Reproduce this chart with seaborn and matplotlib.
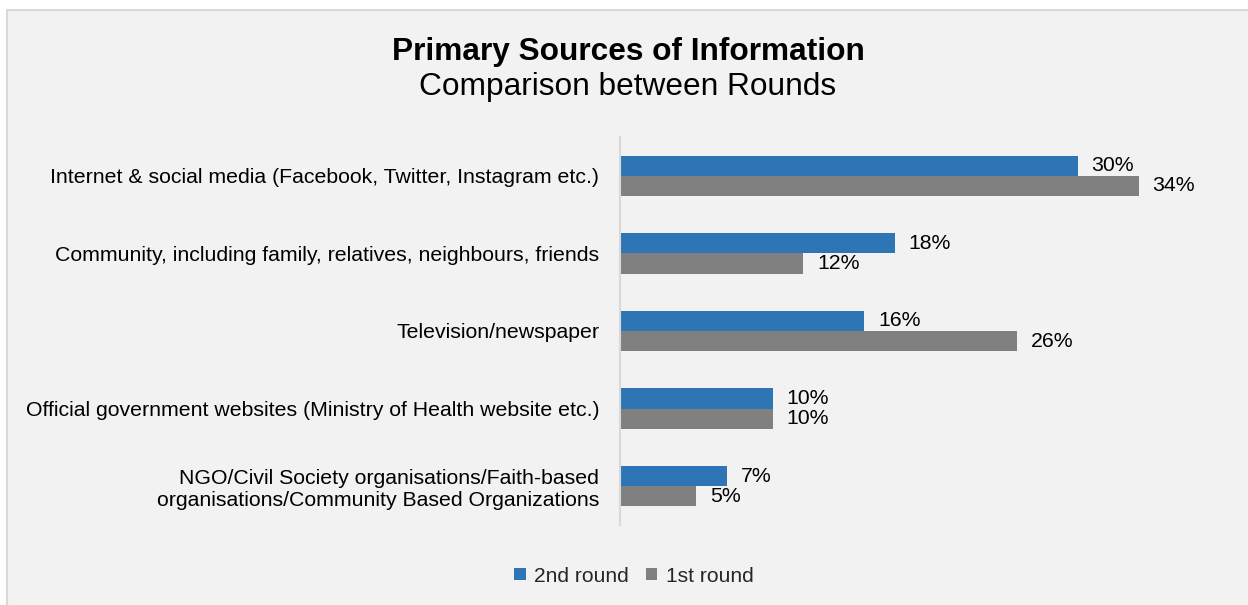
import matplotlib
matplotlib.use("Agg")
import matplotlib.pyplot as plt
import seaborn as sns
import pandas as pd
from matplotlib.patches import Rectangle, Patch

categories = [
    "Internet & social media (Facebook, Twitter, Instagram etc.)",
    "Community, including family, relatives, neighbours, friends",
    "Television/newspaper",
    "Official government websites (Ministry of Health website etc.)",
    "NGO/Civil Society organisations/Faith-based\norganisations/Community Based Organizations",
]
round2 = [30, 18, 16, 10, 7]
round1 = [34, 12, 26, 10, 5]
series_names = ["2nd round", "1st round"]
colors = ["#2E75B6", "#808080"]

df = pd.DataFrame({
    "category": categories * 2,
    "value": round2 + round1,
    "series": [series_names[0]] * len(categories) + [series_names[1]] * len(categories),
})

sns.set_theme(style="white")
plt.rcParams["font.family"] = ["Liberation Sans", "DejaVu Sans"]

W, H = 1248, 605
fig = plt.figure(figsize=(W / 100, H / 100), dpi=100)
fig.patch.set_facecolor("#FFFFFF")
fig.add_artist(Rectangle((7 / W, -0.01), (W - 7) / W + 0.02, (H - 10) / H + 0.01, transform=fig.transFigure,
                         facecolor="#F2F2F2", edgecolor="#D9D9D9", linewidth=1.5, zorder=-10))

left, right, top, bottom = 620, 1230, 137, 525
ax = fig.add_axes([left / W, 1 - bottom / H, (right - left) / W, (bottom - top) / H])
ax.set_facecolor("#F2F2F2")
ax.patch.set_alpha(0)

sns.barplot(data=df, y="category", x="value", hue="series", hue_order=series_names,
            palette=colors, orient="h", width=0.52, gap=0, dodge=True, ax=ax,
            legend=False, saturation=1, edgecolor="none")

ax.set_xlim(0, 40)
ax.set_xlabel("")
ax.set_ylabel("")
ax.set_xticks([])
for s in ["top", "right", "bottom"]:
    ax.spines[s].set_visible(False)
ax.spines["left"].set_color("#D9D9D9")
ax.spines["left"].set_linewidth(1.5)
ax.tick_params(axis="y", length=0, pad=15, labelsize=15.3, colors="#000000")
for lbl in ax.get_yticklabels():
    lbl.set_horizontalalignment("right")
    lbl.set_multialignment("right")

for cont in ax.containers:
    ax.bar_label(cont, fmt="%d%%", padding=10, fontsize=15.3, color="#000000")

fig.text(628 / W, 1 - 52 / H, "Primary Sources of Information", ha="center", va="center",
         fontsize=22.8, fontweight="bold", color="#000000")
fig.text(628 / W, 1 - 87 / H, "Comparison between Rounds", ha="center", va="center",
         fontsize=22.8, color="#000000")

handles = [Patch(facecolor=c, edgecolor="none") for c in colors]
fig.legend(handles, series_names, loc="center", bbox_to_anchor=(634 / W, 1 - 576 / H), ncol=2,
           frameon=False, fontsize=15.1, handlelength=0.55, handleheight=0.55,
           handletextpad=0.4, columnspacing=0.8)

fig.savefig("out.png", dpi=100, facecolor=fig.get_facecolor())
